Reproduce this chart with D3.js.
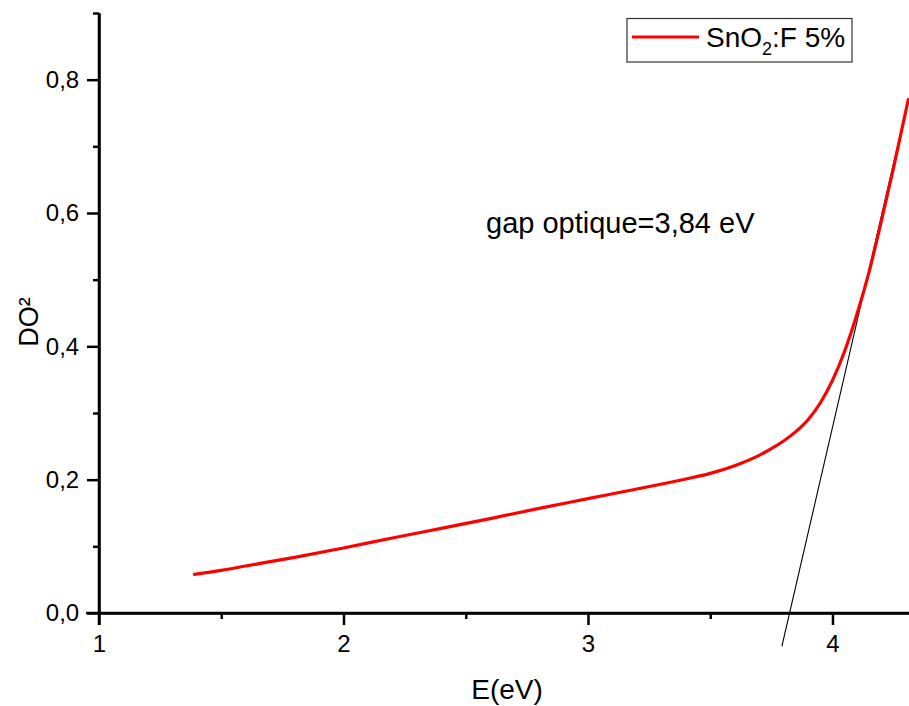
<!DOCTYPE html>
<html><head><meta charset="utf-8">
<script src="https://cdn.jsdelivr.net/npm/d3@7"></script>
<style>body{margin:0;background:#fff}svg{display:block;font-family:"Liberation Sans",Arial,sans-serif}</style>
</head><body><svg id="c" width="909" height="706"></svg>
<script>
const energy = [1.39, 1.5, 1.6, 1.8, 2.0, 2.2, 2.4, 2.6, 2.8, 3.0, 3.2, 3.4, 3.5, 3.6, 3.7, 3.75, 3.8, 3.85, 3.9, 3.95, 4.0, 4.05, 4.1, 4.15, 4.2, 4.25, 4.31];
const do2 = [0.058, 0.064, 0.0705, 0.0835, 0.0975, 0.1125, 0.127, 0.1415, 0.157, 0.1715, 0.186, 0.201, 0.2095, 0.221, 0.2365, 0.2465, 0.258, 0.272, 0.290, 0.315, 0.349, 0.393, 0.448, 0.512, 0.588, 0.668, 0.770];
const tangentE = [3.793, 4.31];
const tangentY = [-0.05, 0.77];
const xMajor = [1, 2, 3, 4];
const xMinor = [1.5, 2.5, 3.5];
const yMajor = [0, 0.2, 0.4, 0.6, 0.8];
const yMinor = [0.1, 0.3, 0.5, 0.7, 0.9];
const seriesName = "SnO";
const annotation = "gap optique=3,84 eV";

const svg = d3.select("#c");
const x = d3.scaleLinear().domain([1, 4.313]).range([99, 909]);
const y = d3.scaleLinear().domain([0, 0.9]).range([613, 13]);
const fmt = v => d3.format(".1f")(v).replace(".", ",");

// Axes
const gx = svg.append("g").attr("transform", "translate(0,613)");
gx.call(d3.axisBottom(x).tickValues(xMajor).tickSize(12).tickSizeOuter(0).tickFormat(d3.format("d")));
gx.append("g").call(d3.axisBottom(x).tickValues(xMinor).tickSize(6).tickSizeOuter(0).tickFormat(""));
const gy = svg.append("g").attr("transform", "translate(99,0)");
gy.call(d3.axisLeft(y).tickValues(yMajor).tickSize(12).tickSizeOuter(0).tickFormat(fmt));
gy.append("g").call(d3.axisLeft(y).tickValues(yMinor).tickSize(6).tickSizeOuter(0).tickFormat(""));
svg.selectAll(".domain").attr("stroke", "#000").attr("stroke-width", 2.5);
svg.selectAll(".tick line").attr("stroke", "#000").attr("stroke-width", 2.5);
gx.selectAll(".tick text").attr("font-size", 24).attr("font-family", "Liberation Sans, Arial, sans-serif").attr("dy", "1.0em").attr("fill", "#000");
gy.selectAll(".tick text").attr("font-size", 24).attr("font-family", "Liberation Sans, Arial, sans-serif").attr("dx", "-0.2em").attr("fill", "#000");
gy.select(".domain").attr("d", "M0,13V625");
gx.select(".domain").attr("d", "M86,0H909");

// Axis titles
svg.append("text").attr("x", 507).attr("y", 699).attr("text-anchor", "middle")
  .attr("font-size", 28).text("E(eV)");
svg.append("text").attr("transform", "translate(38,322) rotate(-90)").attr("text-anchor", "middle")
  .attr("font-size", 27).text("DO²");

// Tangent
const line = d3.line().x(d => x(d[0])).y(d => y(d[1]));
svg.append("path").datum(tangentE.map((e, i) => [e, tangentY[i]]))
  .attr("d", line).attr("fill", "none").attr("stroke", "#000").attr("stroke-width", 1.1);

// Curve
svg.append("path").datum(energy.map((e, i) => [e, do2[i]]))
  .attr("d", d3.line().x(d => x(d[0])).y(d => y(d[1])).curve(d3.curveMonotoneX))
  .attr("fill", "none").attr("stroke", "#ff0000")
  .attr("stroke-width", 3.2).attr("stroke-linecap", "round");

// Annotation
svg.append("text").attr("x", 486).attr("y", 233).attr("font-size", 29).attr("fill", "#000").text(annotation);

// Legend
svg.append("rect").attr("x", 627).attr("y", 18.5).attr("width", 225).attr("height", 43.5)
  .attr("fill", "#fff").attr("stroke", "#333").attr("stroke-width", 1.2);
svg.append("line").attr("x1", 632).attr("x2", 699).attr("y1", 37).attr("y2", 37)
  .attr("stroke", "#ff0000").attr("stroke-width", 3.2);
const lt = svg.append("text").attr("x", 706).attr("y", 47).attr("font-size", 28).attr("fill", "#000");
lt.append("tspan").text(seriesName);
lt.append("tspan").attr("font-size", 18).attr("dy", 8).text("2");
lt.append("tspan").attr("dy", -8).text(":F 5%");
</script></body></html>
